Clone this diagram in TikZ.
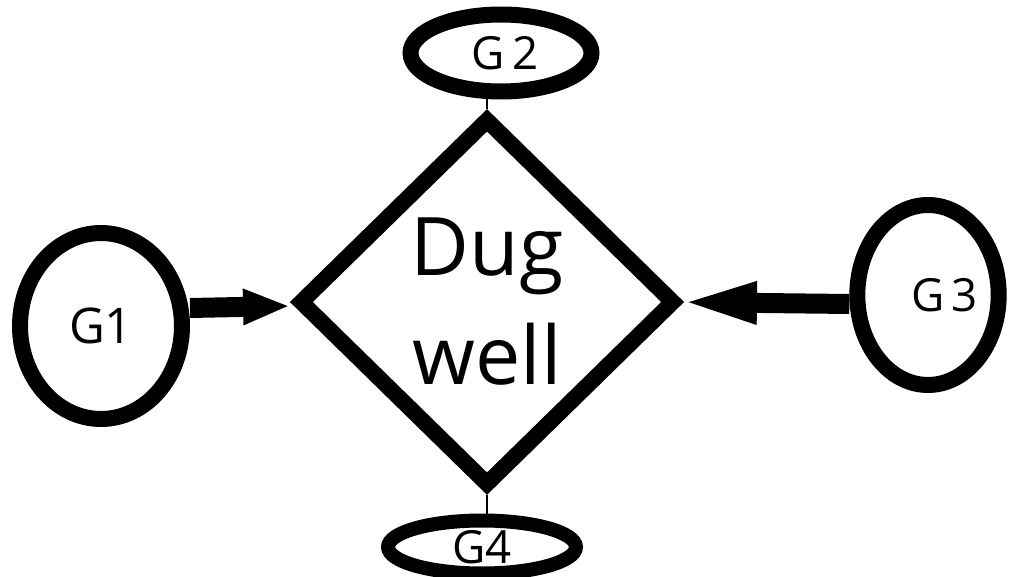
\documentclass[tikz,border=0pt]{standalone}
\usepackage{fontspec}
\setmainfont{Open Sans}
\usetikzlibrary{shapes.geometric,arrows.meta}
\begin{document}
\begin{tikzpicture}[x=0.02cm,y=-0.02cm,
  ring/.style={draw=black,ellipse,inner sep=0pt,line width=0.32cm},
  glabel/.style={font=\fontsize{26}{28}\selectfont},
  wellbox/.style={draw=black,diamond,inner sep=0pt,line width=0.32cm,line join=miter,align=center,font=\fontsize{46}{62}\selectfont},
  thickarrow/.style={line width=0.4cm},
  stem/.style={line width=0.04cm}
]
\fill[white] (0,0) rectangle (1013,577);
\useasboundingbox (0,0) rectangle (1013,577);
\node[wellbox, minimum width=7.56cm, minimum height=7.4cm] (dia) at (487,302) {Dug\\well};
\node[ring, glabel, minimum width=3.24cm, minimum height=3.72cm, font=\fontsize{28}{30}\selectfont] (G1) at (101,326) {G1};
\node[ring, glabel, minimum width=3.62cm, minimum height=1.54cm] (G2) at (501,53) {\hspace{0.16cm}G\,2};
\node[ring, glabel, minimum width=2.8cm, minimum height=3.6cm] (G3) at (928,295) {\hspace{0.66cm}G\,3};
\node[ring, glabel, line width=0.28cm, minimum width=3.76cm, minimum height=1.06cm] (G4) at (482,547) {G4};
\draw[thickarrow, -{Triangle[length=0.94cm,width=0.66cm]}] ([yshift=-0.12cm]G1.east |- dia.west) -- ([yshift=-0.08cm]dia.west);
\draw[thickarrow, -{Triangle[length=1.66cm,width=0.72cm]}] ([yshift=-0.04cm]G3.west |- dia.east) -- ([xshift=-0.2cm]dia.east);
\draw[stem] (dia.north |- G2.south) -- (dia.north);
\draw[stem] (dia.south) -- (dia.south |- G4.north);
\end{tikzpicture}
\end{document}
